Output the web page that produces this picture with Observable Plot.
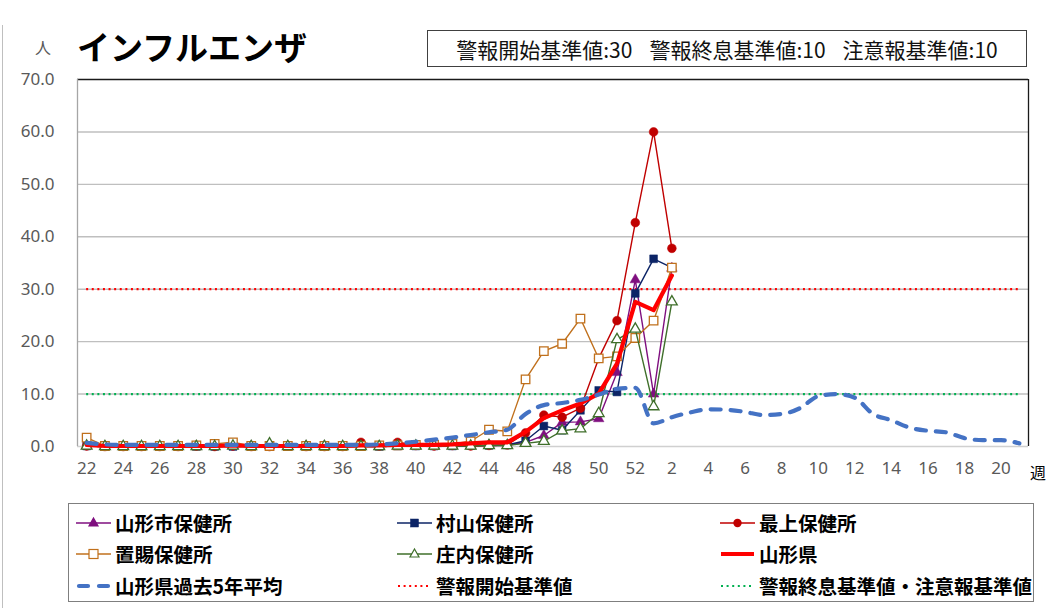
<!DOCTYPE html>
<html>
<head>
<meta charset="utf-8">
<script src="https://cdn.jsdelivr.net/npm/d3@7"></script>
<script src="https://cdn.jsdelivr.net/npm/@observablehq/plot@0.6"></script>
<style>
  body { margin: 0; background: #fff; font-family: "Noto Sans CJK JP", sans-serif; }
  #wrap { position: relative; width: 1049px; height: 608px; overflow: hidden; background: #fff; }
  #chart { position: absolute; left: 0; top: 0; }
  .abs { position: absolute; white-space: nowrap; }
  #unit { left: 35px; top: 35px; font-size: 16px; color: #595959; }
  #title { left: 77px; top: 22px; font-size: 33px; font-weight: bold; color: #000; letter-spacing: 0px; }
  #box { left: 427px; top: 30px; width: 598px; height: 35px; border: 1.3px solid #404040; font-size: 21px; color: #111;
         display: flex; align-items: center; justify-content: center; }
  #box span + span { margin-left: 17px; }
  #wk { left: 1030px; top: 460px; font-size: 16px; color: #000; }
  #legend { left: 68px; top: 503px; width: 966px; height: 99px; border: 1.5px solid #7f7f7f; box-sizing: border-box; }
  .li { position: absolute; display: flex; align-items: center; font-size: 19.5px; font-weight: bold; color: #000; }
  .li svg { margin-right: 3px; }
  #leftborder { left: 2px; top: 25px; width: 0; height: 600px; border-left: 1.3px solid #bfbfbf; }
</style>
</head>
<body>
<div id="wrap">
  <div id="leftborder" class="abs"></div>
  <div id="chart"></div>
  <div id="unit" class="abs">人</div>
  <div id="title" class="abs">インフルエンザ</div>
  <div id="box" class="abs"><span>警報開始基準値:30</span><span>警報終息基準値:10</span><span>注意報基準値:10</span></div>
  <div id="wk" class="abs">週</div>
  <div id="legend" class="abs"></div>
</div>
<script>
// ---- data ----
const weeks = ["22","23","24","25","26","27","28","29","30","31","32","33","34","35","36","37","38","39","40","41","42","43","44","45","46","47","48","49","50","51","52",
               "1","2","3","4","5","6","7","8","9","10","11","12","13","14","15","16","17","18","19","20","21"];
const xTickIdx = [0,2,4,6,8,10,12,14,16,18,20,22,24,26,28,30,32,34,36,38,40,42,44,46,48,50];
const yTicks = [0,10,20,30,40,50,60,70];

// current season, weeks 22 .. 52, 1, 2
const yamagataShi = [0.1,0,0,0,0,0,0.1,0.1,0.2,0.1,0.1,0,0.1,0.1,0,0.1,0,0.1,0.1,0,0.1,0.1,0.2,0.2,0.8,2.1,4.6,4.7,5.3,14.1,31.8,10.0,34.0];
const murayama    = [0.1,0,0,0,0,0,0,0,0,0,0,0,0,0,0,0,0,0.1,0.1,0.1,0.1,0.2,0.2,0.3,1.1,3.9,3.1,6.9,10.7,10.4,29.2,35.8,34.1];
const mogami      = [0.1,0,0,0,0,0,0.1,0,0.1,0,0,0.1,0,0,0,0.8,0.1,0.8,0.2,0.1,0.2,0.1,0.2,0.3,2.6,6.0,5.6,7.3,16.8,24.0,42.7,60.0,37.8];
const okitama     = [1.7,0.1,0.1,0.1,0.1,0.1,0.2,0.5,0.8,0.1,0.1,0.1,0.1,0.1,0.1,0.1,0.2,0.2,0.3,0.3,0.5,1.0,3.2,2.9,12.8,18.2,19.6,24.4,16.8,17.2,20.7,24.0,34.1];
const shonai      = [0.1,0,0,0,0,0,0,0,0.1,0,0.5,0,0,0,0,0,0,0.1,0.1,0.1,0.1,0.1,0.2,0.2,0.6,1.0,3.0,3.4,6.3,20.4,22.4,7.6,27.6];
const yamagataKen = [0.3,0.1,0.1,0.1,0.1,0.1,0.1,0.1,0.2,0.1,0.1,0.1,0.1,0.1,0.1,0.2,0.2,0.3,0.3,0.3,0.4,0.6,0.8,0.8,2.8,5.4,6.9,8.2,10.1,15.8,27.6,26.0,32.6];
// past 5-year average, all 52 weeks
const kenAvg5 = [0.7,0.4,0.3,0.3,0.3,0.3,0.3,0.3,0.3,0.3,0.3,0.3,0.3,0.3,0.3,0.3,0.4,0.6,0.9,1.3,1.7,2.2,2.7,3.2,6.2,7.9,8.3,8.9,9.9,11.0,11.2,
                 4.4,5.6,6.5,7.1,7.0,6.6,6.0,6.2,7.3,9.6,10.0,9.3,6.2,5.0,3.6,3.0,2.7,1.6,1.2,1.2,0.6];
const alarmStart = [30];
const alarmEndAdvisory = [10];

const C = {
  shi: "#7f0f7f", mura: "#0c2466", mogami: "#c00000", oki: "#c0701c", sho: "#3f6f2a",
  ken: "#ff0000", avg: "#4472c4", red: "#ff0000", green: "#00b050"
};

const rows = vals => vals.map((v, i) => ({i, v})).filter(d => d.v != null);

const series = [
  {data: rows(yamagataShi), color: C.shi, symbol: "triangle", r: 3.9, filled: true},
  {data: rows(murayama), color: C.mura, symbol: "square", r: 4.4, filled: true},
  {data: rows(mogami), color: C.mogami, symbol: "circle", r: 4.4, filled: true},
  {data: rows(okitama), color: C.oki, symbol: "square", r: 4.8, filled: false},
  {data: rows(shonai), color: C.sho, symbol: "triangle", r: 4.0, filled: false}
];

const tickFont = '"Noto Sans", "Open Sans", sans-serif';
const marks = [
  Plot.ruleY([10,20,30,40,50,60], {stroke: "#bfbfbf", strokeWidth: 1.4}),
  Plot.ruleY([0], {stroke: "#d0d0d0", strokeWidth: 1.4}),
  Plot.ruleY([70], {stroke: "#1a1a1a", strokeWidth: 1.3}),
  Plot.ruleX([-0.5], {stroke: "#a6a6a6", strokeWidth: 1.3}),
  Plot.ruleX([51.5], {stroke: "#1a1a1a", strokeWidth: 1.3}),
  Plot.axisY(yTicks, {tickSize: 0, tickPadding: 23, tickFormat: d => d.toFixed(1), fontSize: 17, fontFamily: tickFont, label: null}),
  Plot.axisX(xTickIdx, {tickSize: 0, tickPadding: 15, tickFormat: i => weeks[i], fontSize: 17, fontFamily: tickFont, label: null}),
  Plot.ruleY(alarmStart, {x1: () => 0, x2: () => 51, stroke: C.red, strokeWidth: 2.2, strokeDasharray: "2,3.6"}),
  Plot.ruleY(alarmEndAdvisory, {x1: () => 0, x2: () => 51, stroke: C.green, strokeWidth: 2.2, strokeDasharray: "2,3.6"})
];
for (const s of series) {
  marks.push(Plot.line(s.data, {x: "i", y: "v", stroke: s.color, strokeWidth: 1.4}));
  marks.push(Plot.dot(s.data, {x: "i", y: "v", symbol: s.symbol, r: s.r,
    fill: s.filled ? s.color : "white", stroke: s.color, strokeWidth: s.filled ? 0.5 : 1.3}));
}
marks.push(Plot.line(rows(yamagataKen), {x: "i", y: "v", stroke: C.ken, strokeWidth: 4.2, strokeLinejoin: "round"}));
marks.push(Plot.line(rows(kenAvg5), {x: "i", y: "v", stroke: C.avg, strokeWidth: 4.2, strokeDasharray: "10,10", strokeLinecap: "round", curve: "monotone-x"}));

const plot = Plot.plot({
  width: 1049, height: 490,
  marginLeft: 77, marginRight: 21, marginTop: 79, marginBottom: 44,
  style: {fontFamily: '"Noto Sans CJK JP", sans-serif', color: "#595959", background: "transparent", overflow: "visible"},
  x: {domain: [-0.5, 51.5]},
  y: {domain: [0, 70]},
  marks
});
document.getElementById("chart").appendChild(plot);

// ---- legend ----
const legendItems = [
  {label: "山形市保健所", color: C.shi, kind: "tri", filled: true},
  {label: "村山保健所", color: C.mura, kind: "sq", filled: true},
  {label: "最上保健所", color: C.mogami, kind: "circ", filled: true},
  {label: "置賜保健所", color: C.oki, kind: "sq", filled: false},
  {label: "庄内保健所", color: C.sho, kind: "tri", filled: false},
  {label: "山形県", color: C.ken, kind: "thick"},
  {label: "山形県過去5年平均", color: C.avg, kind: "dash"},
  {label: "警報開始基準値", color: C.red, kind: "dot"},
  {label: "警報終息基準値・注意報基準値", color: C.green, kind: "dot"}
];
const colX = [7, 328, 651];
const rowY = [4, 35, 67];
const legend = document.getElementById("legend");
legendItems.forEach((it, k) => {
  const div = document.createElement("div");
  div.className = "li";
  div.style.left = colX[k % 3] + "px";
  div.style.top = rowY[Math.floor(k / 3)] + "px";
  let line = "", marker = "";
  if (it.kind === "thick") line = `<line x1="1" y1="10" x2="34" y2="10" stroke="${it.color}" stroke-width="4.2"/>`;
  else if (it.kind === "dash") line = `<line x1="3" y1="10" x2="34" y2="10" stroke="${it.color}" stroke-width="4.2" stroke-dasharray="9,11" stroke-linecap="round"/>`;
  else if (it.kind === "dot") line = `<line x1="1" y1="10" x2="34" y2="10" stroke="${it.color}" stroke-width="2.2" stroke-dasharray="2,3.6"/>`;
  else line = `<line x1="0" y1="10" x2="35" y2="10" stroke="${it.color}" stroke-width="1.4"/>`;
  const f = it.filled ? it.color : "white";
  if (it.kind === "tri") marker = `<polygon points="17.5,5 22,13 13,13" fill="${f}" stroke="${it.color}" stroke-width="1.2"/>`;
  if (it.kind === "sq") marker = it.filled ? `<rect x="13.5" y="6" width="8" height="8" fill="${f}" stroke="${it.color}" stroke-width="0.5"/>`
                                          : `<rect x="13" y="5.5" width="9" height="9" fill="${f}" stroke="${it.color}" stroke-width="1.2"/>`;
  if (it.kind === "circ") marker = `<circle cx="17.5" cy="10" r="4.2" fill="${f}"/>`;
  div.innerHTML = `<svg width="36" height="20">${line}${marker}</svg><span>${it.label}</span>`;
  legend.appendChild(div);
});
</script>
</body>
</html>
